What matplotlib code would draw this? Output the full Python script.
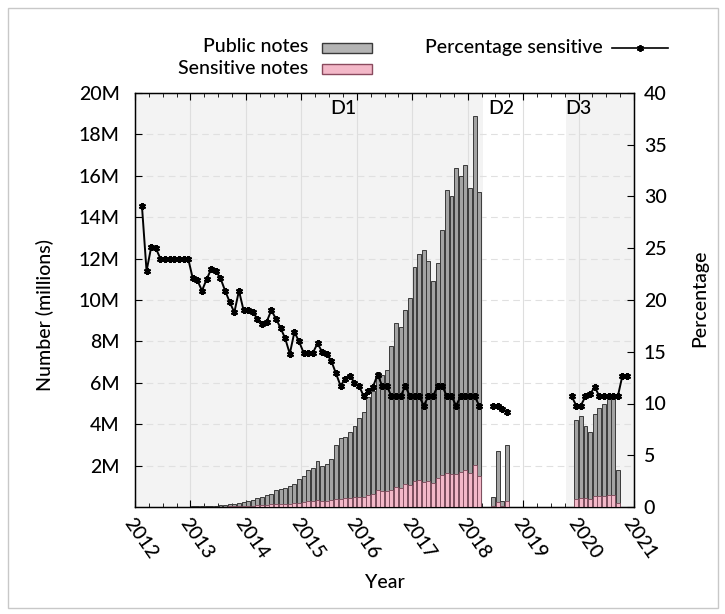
import numpy as np
import matplotlib
matplotlib.use('Agg')
import matplotlib.pyplot as plt
from matplotlib.patches import Rectangle
from matplotlib.lines import Line2D
from matplotlib.ticker import MultipleLocator

plt.rcParams['font.family'] = ['Lato', 'DejaVu Sans']
plt.rcParams['font.weight'] = 'medium'

# ---------------- data (monthly, Jan 2012 .. Dec 2020) ----------------
start_year = 2012
public_notes = [  # millions
    0.02, 0.02, 0.02, 0.02, 0.02, 0.02, 0.02, 0.02, 0.02, 0.02, 0.02, 0.02,
    0.03, 0.03, 0.04, 0.05, 0.06, 0.07, 0.09, 0.11, 0.13, 0.16, 0.20, 0.25,
    0.30, 0.35, 0.45, 0.50, 0.60, 0.65, 0.80, 0.85, 0.90, 1.00, 1.10, 1.35,
    1.50, 1.80, 1.90, 2.20, 2.00, 2.10, 2.30, 3.00, 3.35, 3.40, 3.60, 3.90,
    4.30, 4.60, 5.30, 5.60, 6.50, 6.40, 6.60, 7.80, 8.90, 8.70, 9.50, 10.1,
    11.6, 12.2, 12.4, 11.9, 10.9, 11.8, 13.4, 15.3, 15.0, 16.4, 16.0, 16.5,
    15.4, 18.9, 15.2, 0.00, 0.00, 0.50, 2.70, 0.30, 3.00, 0.00, 0.00, 0.00,
    0.00, 0.00, 0.00, 0.00, 0.00, 0.00, 0.00, 0.00, 0.00, 0.00, 0.00, 4.20,
    4.40, 3.90, 3.60, 4.50, 4.80, 5.00, 5.20, 5.40, 1.80, 0.00, 0.00, 0.00,
]
sensitive_notes = [  # millions
    0.005, 0.005, 0.005, 0.005, 0.005, 0.005, 0.005, 0.005, 0.005, 0.005, 0.005, 0.005,
    0.007, 0.007, 0.008, 0.011, 0.014, 0.016, 0.020, 0.023, 0.026, 0.030, 0.042, 0.048,
    0.057, 0.066, 0.082, 0.089, 0.107, 0.124, 0.146, 0.147, 0.147, 0.148, 0.186, 0.216,
    0.224, 0.268, 0.283, 0.348, 0.300, 0.311, 0.324, 0.387, 0.392, 0.422, 0.457, 0.468,
    0.503, 0.492, 0.594, 0.650, 0.832, 0.749, 0.772, 0.835, 0.952, 0.931, 1.110, 1.080,
    1.240, 1.310, 1.220, 1.270, 1.170, 1.380, 1.570, 1.640, 1.610, 1.610, 1.710, 1.770,
    1.650, 2.020, 1.490, 0.000, 0.000, 0.050, 0.260, 0.030, 0.280, 0.000, 0.000, 0.000,
    0.000, 0.000, 0.000, 0.000, 0.000, 0.000, 0.000, 0.000, 0.000, 0.000, 0.000, 0.410,
    0.430, 0.420, 0.390, 0.520, 0.510, 0.540, 0.560, 0.580, 0.190, 0.000, 0.000, 0.000,
]
pct_sensitive = [  # percent, None = no data
    None, 29.1, 22.8, 25.1, 25.0, 24.0, 24.0, 24.0, 24.0, 24.0, 24.0, 24.0,
    22.1, 21.9, 20.9, 22.0, 23.0, 22.8, 22.1, 20.9, 19.8, 18.8, 20.9, 19.0,
    19.0, 18.8, 18.2, 17.7, 17.9, 19.0, 18.2, 17.3, 16.3, 14.8, 16.9, 16.0,
    14.9, 14.9, 14.9, 15.8, 15.0, 14.8, 14.1, 12.9, 11.7, 12.4, 12.7, 12.0,
    11.7, 10.7, 11.2, 11.6, 12.8, 11.7, 11.7, 10.7, 10.7, 10.7, 11.7, 10.7,
    10.7, 10.7, 9.8, 10.7, 10.7, 11.7, 11.7, 10.7, 10.7, 9.8, 10.7, 10.7,
    10.7, 10.7, 9.8, None, None, 9.8, 9.8, 9.5, 9.2, None, None, None,
    None, None, None, None, None, None, None, None, None, None, 10.7, 9.8,
    9.8, 10.7, 10.9, 11.6, 10.7, 10.7, 10.7, 10.7, 10.7, 12.7, 12.7, None,
]
period_names = ['D1', 'D2', 'D3']
period_label_x = [2015.75, 2018.6, 2020.0]
period_spans = [(2012.0, 2018.28), (2018.28, 2019.78), (2019.78, 2021.0)]
period_shaded = [True, False, True]
year_ticks = list(range(2012, 2022))
left_ticks = [2, 4, 6, 8, 10, 12, 14, 16, 18, 20]
left_labels = ['2M', '4M', '6M', '8M', '10M', '12M', '14M', '16M', '18M', '20M']
right_ticks = [0, 5, 10, 15, 20, 25, 30, 35, 40]

# ---------------- figure ----------------
W, H = 725, 614
FS = 14
fig = plt.figure(figsize=(W / 100, H / 100), dpi=100)
def fx(px): return px / W
def fy(py): return 1 - py / H

# outer frame
fig.patches.append(Rectangle((fx(8), fy(608)), fx(718) - fx(8), fy(8) - fy(608),
                             transform=fig.transFigure, fill=False,
                             edgecolor='#c8c8c8', linewidth=1.0))

ax = fig.add_axes([fx(135), fy(507), fx(634) - fx(135), fy(93) - fy(507)])
n = len(public_notes)
xs = start_year + (np.arange(n) + 0.5) / 12.0
pub = np.array(public_notes, dtype=float)
sen = np.array(sensitive_notes, dtype=float)
pct = np.array([np.nan if v is None else v for v in pct_sensitive], dtype=float)

for (a, b), sh in zip(period_spans, period_shaded):
    if sh:
        ax.axvspan(a, b, color='#f3f3f3', zorder=0, linewidth=0)

bw = 0.85 / 12
m = pub > 0
ax.bar(xs[m], pub[m], width=bw, color='#a3a3a3', edgecolor='#3a3a3a',
       linewidth=0.7, zorder=2)
m2 = sen > 0
ax.bar(xs[m2], sen[m2], width=bw, color='#f3b8c8', edgecolor='#7a4858',
       linewidth=0.6, zorder=3)

ax.set_xlim(2012, 2021)
ax.set_ylim(0, 20)
ax.set_xticks(year_ticks)
ax.set_xticklabels([str(y) for y in year_ticks], rotation=-55, ha='left',
                   va='top', rotation_mode='anchor', fontsize=FS)
ax.xaxis.set_minor_locator(MultipleLocator(0.25))
ax.set_yticks(left_ticks)
ax.set_yticklabels(left_labels, fontsize=FS)
ax.tick_params(axis='x', which='major', direction='in', length=5, top=True, pad=6)
ax.tick_params(axis='x', which='minor', direction='in', length=3, top=True)
ax.tick_params(axis='y', direction='in', length=5, right=True, pad=11)
ax.set_axisbelow(True)
ax.xaxis.grid(True, color='#dedede', linewidth=0.8)
ax.yaxis.grid(True, color='#e0e0e0', linewidth=0.8, linestyle=(0, (6, 4)))
for s in ax.spines.values():
    s.set_linewidth(1.0)

for name, lx in zip(period_names, period_label_x):
    ax.text(lx, 19.25, name, ha='center', va='center', fontsize=FS, zorder=5)

ax2 = ax.twinx()
ax2.set_ylim(0, 40)
ax2.set_yticks(right_ticks)
ax2.set_yticklabels([str(t) for t in right_ticks], fontsize=FS)
ax2.tick_params(axis='y', direction='in', length=5, pad=7)
ax2.plot(xs, pct, color='black', linewidth=1.4, marker=(6, 2, 0),
         markersize=5, markeredgewidth=1.5, zorder=4)

# axis labels
fig.text(fx(45), fy(315), 'Number (millions)', rotation=90, ha='center',
         va='center', fontsize=FS)
fig.text(fx(700), fy(298), 'Percentage', rotation=90, ha='center',
         va='center', fontsize=FS)
fig.text(fx(385), fy(583), 'Year', ha='center', va='center', fontsize=FS)

# legend (manual, gnuplot style)
fig.text(fx(308), fy(47), 'Public notes', ha='right', va='center', fontsize=FS)
fig.text(fx(308), fy(68), 'Sensitive notes', ha='right', va='center', fontsize=FS)
fig.patches.append(Rectangle((fx(322), fy(53)), fx(372) - fx(322), fy(43) - fy(53),
                             transform=fig.transFigure, facecolor='#b4b4b4',
                             edgecolor='#3a3a3a', linewidth=1.0))
fig.patches.append(Rectangle((fx(322), fy(74)), fx(372) - fx(322), fy(64) - fy(74),
                             transform=fig.transFigure, facecolor='#f3b8c8',
                             edgecolor='#8a4a5e', linewidth=1.0))
fig.text(fx(603), fy(47), 'Percentage sensitive', ha='right', va='center', fontsize=FS)
fig.lines.append(Line2D([fx(612), fx(668)], [fy(48), fy(48)], transform=fig.transFigure,
                        color='black', linewidth=1.2))
fig.lines.append(Line2D([fx(640)], [fy(48)], transform=fig.transFigure,
                        color='black', marker=(6, 2, 0), markersize=5,
                        markeredgewidth=1.3, linestyle='none'))

fig.savefig('out.png', dpi=100)
